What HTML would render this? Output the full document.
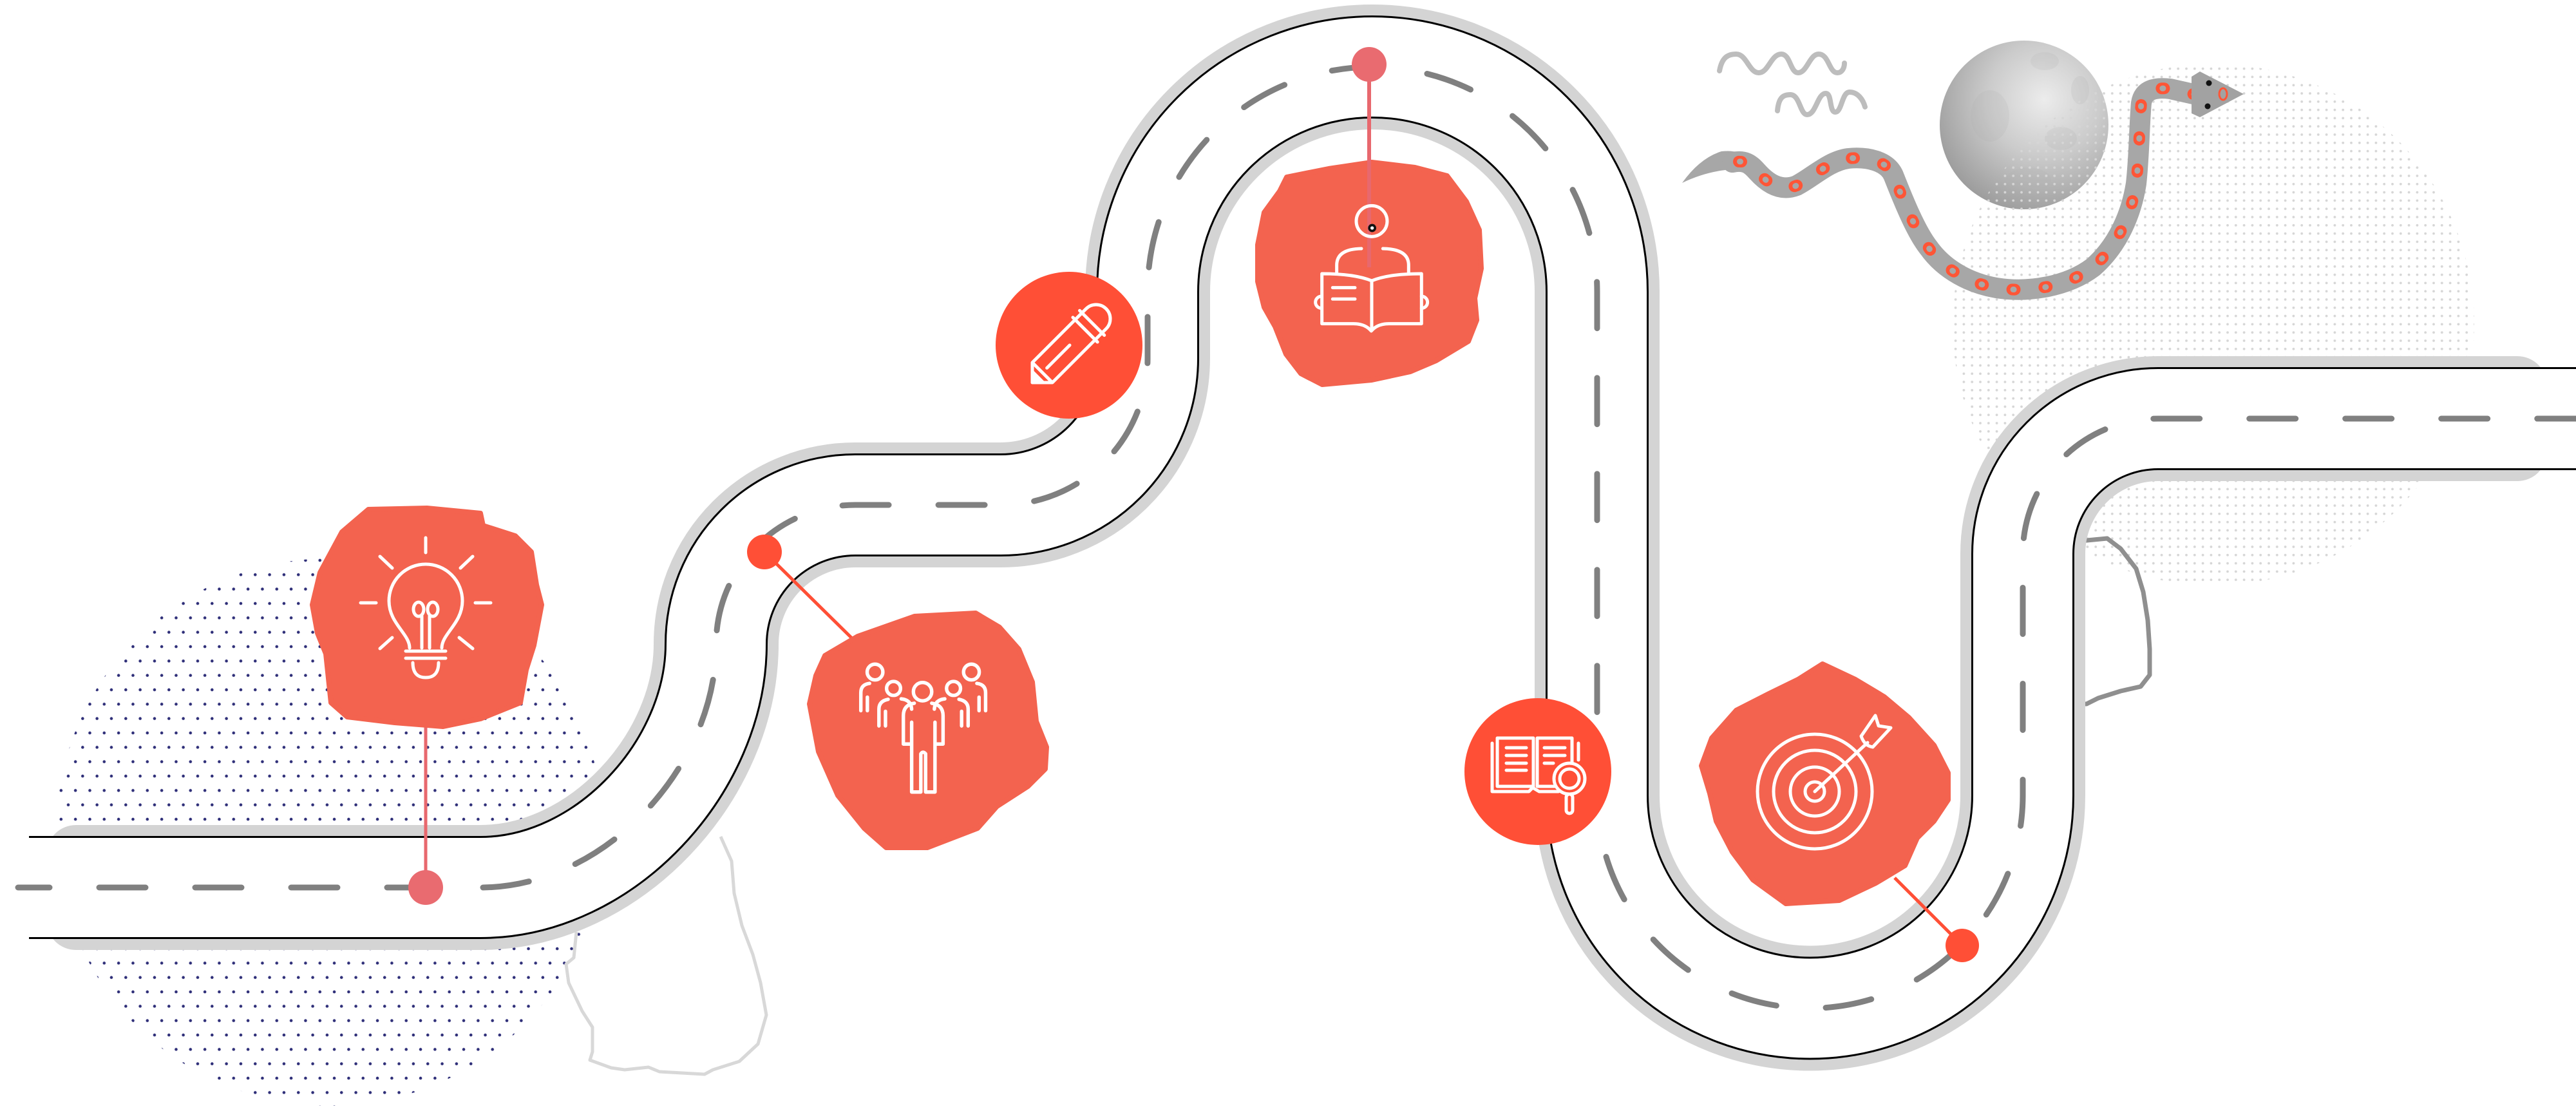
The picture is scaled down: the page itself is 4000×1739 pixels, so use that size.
<!DOCTYPE html>
<html>
<head>
<meta charset="utf-8">
<style>
html,body{margin:0;padding:0;background:#fff;}
svg{display:block;}
</style>
</head>
<body>
<svg width="4000" height="1739" viewBox="0 0 4000 1739" xmlns="http://www.w3.org/2000/svg">
<defs>
  <pattern id="pd1" patternUnits="userSpaceOnUse" x="0" y="1261" width="22.33" height="44.67">
    <circle cx="5.5" cy="11" r="2.3" fill="#2E2E78"/>
    <circle cx="16.67" cy="33.33" r="2.3" fill="#2E2E78"/>
  </pattern>
  <pattern id="pd2" patternUnits="userSpaceOnUse" x="0" y="0" width="12.8" height="12.8">
    <circle cx="3" cy="4.2" r="1.9" fill="#D6D6D6"/>
  </pattern>
  <radialGradient id="moon" cx="62%" cy="35%" r="75%">
    <stop offset="0" stop-color="#ECECEC"/>
    <stop offset="0.45" stop-color="#CBCBCB"/>
    <stop offset="1" stop-color="#959595"/>
  </radialGradient>
</defs>

<rect width="4000" height="1739" fill="#fff"/>

<!-- dotted circles -->
<circle cx="512" cy="1292" r="425" fill="url(#pd1)"/>

<!-- moon -->
<circle cx="3143" cy="194" r="131" fill="url(#moon)"/>
<g fill="#AFAFAF" opacity="0.18">
  <ellipse cx="3175" cy="95" rx="22" ry="14"/>
  <ellipse cx="3090" cy="180" rx="30" ry="40"/>
  <ellipse cx="3200" cy="215" rx="25" ry="18"/>
  <ellipse cx="3150" cy="280" rx="35" ry="20"/>
  <ellipse cx="3230" cy="140" rx="14" ry="22"/>
</g>

<circle cx="3437" cy="504" r="405" fill="url(#pd2)"/>

<!-- squiggles -->
<g fill="none" stroke="#BDBDBD" stroke-width="8" stroke-linecap="round">
  <path d="M 2670 110 C 2674 88 2684 84 2696 84 C 2712 84 2716 113 2731 113 C 2746 113 2750 84 2766 84 C 2780 84 2780 113 2792 113 C 2806 113 2810 84 2824 84 C 2840 84 2840 113 2853 113 C 2860 113 2864 106 2864 98"/>
  <path d="M 2760 172 C 2762 150 2770 147 2780 147 C 2795 147 2795 178 2806 178 C 2820 178 2822 145 2835 145 C 2845 145 2840 174 2850 174 C 2860 174 2860 143 2872 143 C 2885 143 2893 155 2896 166"/>
</g>

<!-- snake -->
<g>
  <path d="M 2612 284 Q 2640 245 2673 235 Q 2700 232 2718 246 L 2726 274 Q 2700 264 2679 264 Q 2645 268 2612 284 Z" fill="#A7A7A7"/>
  <path d="M 2690 252 C 2710 248 2718 255 2728 266 C 2745 285 2765 298 2790 288 C 2815 275 2840 250 2870 246 C 2900 243 2930 250 2940 272 C 2955 310 2975 360 2995 385 C 3020 420 3060 440 3100 447 C 3150 455 3210 445 3250 415 C 3290 380 3310 330 3317 285 C 3322 240 3322 190 3325 160 C 3328 140 3345 135 3370 138 L 3410 147" fill="none" stroke="#A7A7A7" stroke-width="32" stroke-linecap="round" stroke-linejoin="round"/>
  <path d="M 2690 252 C 2710 248 2718 255 2728 266 C 2745 285 2765 298 2790 288 C 2815 275 2840 250 2870 246 C 2900 243 2930 250 2940 272 C 2955 310 2975 360 2995 385 C 3020 420 3060 440 3100 447 C 3150 455 3210 445 3250 415 C 3290 380 3310 330 3317 285 C 3322 240 3322 190 3325 160 C 3328 140 3345 135 3370 138 L 3410 147" fill="none" stroke="#FF5536" stroke-width="18" stroke-linecap="round" stroke-dasharray="4 46" stroke-dashoffset="-10"/>
  <path d="M 2690 252 C 2710 248 2718 255 2728 266 C 2745 285 2765 298 2790 288 C 2815 275 2840 250 2870 246 C 2900 243 2930 250 2940 272 C 2955 310 2975 360 2995 385 C 3020 420 3060 440 3100 447 C 3150 455 3210 445 3250 415 C 3290 380 3310 330 3317 285 C 3322 240 3322 190 3325 160 C 3328 140 3345 135 3370 138 L 3410 147" fill="none" stroke="#A7A7A7" stroke-width="9" stroke-linecap="round" stroke-dasharray="1 49" stroke-dashoffset="-11.5"/>
  <path d="M 3403 119 L 3416 111 L 3484 146 L 3416 182 L 3403 176 Z" fill="#A2A2A2"/>
  <circle cx="3430" cy="129" r="4.5" fill="#111"/>
  <circle cx="3428" cy="165" r="4.5" fill="#111"/>
  <ellipse cx="3452" cy="146" rx="6" ry="9" fill="none" stroke="#FF5536" stroke-width="3"/>
</g>

<!-- grey hand drawn outlines -->
<path d="M 895 1447 L 891 1487 L 879 1497 L 883 1526 L 904 1570 L 920 1595 L 920 1633 L 916 1646 L 949 1658 L 970 1661 L 1007 1657 L 1024 1664 L 1094 1668 L 1107 1661 L 1148 1648 L 1177 1621 L 1190 1576 L 1181 1526 L 1169 1482 L 1152 1437 L 1140 1387 L 1136 1337 L 1119 1299" fill="none" stroke="#D8D8D8" stroke-width="5" stroke-linejoin="round"/>
<path d="M 3230 840 L 3272 836 L 3293 852 L 3317 883 L 3328 919 L 3335 963 L 3338 1008 L 3338 1048 L 3324 1066 L 3293 1073 L 3258 1084 L 3240 1093 L 3228 1093" fill="none" stroke="#8F8F8F" stroke-width="7" stroke-linejoin="round"/>

<!-- road -->
<rect x="72" y="1281" width="120" height="194" rx="46" fill="#D4D4D4"/>
<rect x="3840" y="553" width="115" height="194" rx="46" fill="#D4D4D4"/>
<path d="M 120 1378 H 746 C 940 1378 1112 1190 1112 1000 A 216 216 0 0 1 1328 784 H 1554 A 228 228 0 0 0 1782 556 V 453 A 349 349 0 0 1 2131 104 A 349 349 0 0 1 2480 453 V 1235 A 330.5 330.5 0 0 0 2810.5 1565.5 A 330.5 330.5 0 0 0 3141 1235 V 860 A 210 210 0 0 1 3351 650 H 3900" fill="none" stroke="#D4D4D4" stroke-width="194"/>
<path d="M 45 1378 H 746 C 940 1378 1112 1190 1112 1000 A 216 216 0 0 1 1328 784 H 1554 A 228 228 0 0 0 1782 556 V 453 A 349 349 0 0 1 2131 104 A 349 349 0 0 1 2480 453 V 1235 A 330.5 330.5 0 0 0 2810.5 1565.5 A 330.5 330.5 0 0 0 3141 1235 V 860 A 210 210 0 0 1 3351 650 H 4000" fill="none" stroke="#000" stroke-width="160"/>
<path d="M 0 1378 H 746 C 940 1378 1112 1190 1112 1000 A 216 216 0 0 1 1328 784 H 1554 A 228 228 0 0 0 1782 556 V 453 A 349 349 0 0 1 2131 104 A 349 349 0 0 1 2480 453 V 1235 A 330.5 330.5 0 0 0 2810.5 1565.5 A 330.5 330.5 0 0 0 3141 1235 V 860 A 210 210 0 0 1 3351 650 H 4000" fill="none" stroke="#fff" stroke-width="154"/>
<path d="M 28 1378 H 746 C 940 1378 1112 1190 1112 1000 A 216 216 0 0 1 1328 784 H 1554 A 228 228 0 0 0 1782 556 V 453 A 349 349 0 0 1 2131 104 A 349 349 0 0 1 2480 453 V 1235 A 330.5 330.5 0 0 0 2810.5 1565.5 A 330.5 330.5 0 0 0 3141 1235 V 860 A 210 210 0 0 1 3351 650 H 4000" fill="none" stroke="#808080" stroke-width="9" stroke-linecap="round" stroke-dasharray="72 77" stroke-dashoffset="23"/>

<!-- pin lines -->
<line x1="661" y1="1110" x2="661" y2="1378" stroke="#E8686E" stroke-width="5"/>
<line x1="1187" y1="857" x2="1330" y2="998" stroke="#FF4F36" stroke-width="5"/>
<line x1="2942" y1="1363" x2="3047" y2="1468" stroke="#FF4F36" stroke-width="5"/>

<!-- blobs -->
<g fill="#F3634F" stroke="#F3634F" stroke-width="8" stroke-linejoin="round">
  <polygon points="572,791 663,789 746,797 750,816 800,832 825,857 833,908 841,939 829,1002 817,1040 808,1091 746,1116 688,1128 613,1122 539,1113 514,1091 506,1015 493,983 485,939 497,889 531,826"/>
  <polygon points="1281,1018 1332,988 1420,957 1515,952 1552,974 1582,1008 1603,1059 1609,1120 1625,1160 1623,1194 1596,1221 1548,1252 1518,1286 1440,1316 1376,1316 1342,1286 1301,1235 1271,1167 1257,1093 1267,1049"/>
  <polygon points="1998,275 2063,262 2130,252 2197,260 2247,273 2277,313 2297,357 2300,417 2290,463 2293,497 2280,530 2230,560 2190,577 2130,590 2053,597 2020,580 1997,550 1980,507 1963,477 1953,437 1953,380 1963,330 1987,297"/>
  <polygon points="2830,1031 2881,1055 2926,1082 2964,1114 3003,1157 3025,1200 3025,1242 3003,1275 2977,1301 2958,1344 2913,1371 2856,1398 2773,1403 2722,1366 2690,1323 2665,1275 2655,1232 2642,1189 2658,1146 2696,1103 2747,1077 2792,1055"/>
</g>

<!-- pin dots -->
<circle cx="661" cy="1378" r="27" fill="#E96B70"/>
<circle cx="1187" cy="857" r="27" fill="#FF4F36"/>
<circle cx="3047" cy="1468" r="26" fill="#FF4F36"/>
<line x1="2126" y1="100" x2="2126" y2="415" stroke="#E8686E" stroke-width="6"/>
<circle cx="2126" cy="100" r="27" fill="#E96B70"/>

<!-- solid circles -->
<circle cx="1660" cy="536" r="114" fill="#FF4F36"/>
<circle cx="2388" cy="1198" r="114" fill="#FF4F36"/>

<!-- lightbulb icon -->
<g fill="none" stroke="#fff" stroke-width="5" stroke-linecap="round">
  <path d="M 636 1006 C 636 984 604 968 604 933 A 57 57 0 1 1 718 933 C 718 968 686 984 686 1006"/>
  <path d="M 630 1011 H 692 M 630 1022 H 692 M 641 1029 Q 641 1052 661 1052 Q 681 1052 681 1029"/>
  <path d="M 655 1006 V 957 M 667 1006 V 957"/>
  <ellipse cx="650" cy="946" rx="8" ry="11"/>
  <ellipse cx="672" cy="946" rx="8" ry="11"/>
  <path d="M 661 835 V 858 M 560 936 H 584 M 738 936 H 762 M 590 864 L 609 882 M 734 864 L 715 882 M 590 1007 L 609 990 M 734 1007 L 713 990"/>
</g>

<!-- team icon -->
<g transform="translate(1230,930) scale(0.3387)" fill="none" stroke="#fff" stroke-width="16" stroke-linecap="round" stroke-linejoin="round">
  <circle cx="598" cy="425" r="42"/>
  <path d="M 560 478 Q 510 485 510 535 V 665 H 548 V 565 M 548 565 V 885 H 590 V 710 Q 600 695 612 710 V 885 H 655 V 565 M 655 565 V 665 H 692 V 535 Q 692 485 640 478"/>
  <circle cx="380" cy="335" r="36"/>
  <path d="M 355 387 Q 315 392 315 430 V 512 M 345 450 V 512"/>
  <circle cx="465" cy="410" r="32"/>
  <path d="M 440 460 Q 398 468 398 505 V 582 M 428 515 V 582 M 500 458 Q 545 462 548 505"/>
  <circle cx="822" cy="335" r="36"/>
  <path d="M 847 387 Q 887 392 887 430 V 512 M 857 450 V 512"/>
  <circle cx="740" cy="410" r="32"/>
  <path d="M 765 460 Q 807 468 807 505 V 582 M 777 515 V 582 M 700 458 Q 655 462 652 505"/>
</g>

<!-- pencil icon -->
<g transform="translate(1661,536) rotate(-45)" fill="none" stroke="#fff" stroke-width="5" stroke-linejoin="round" stroke-linecap="round">
  <path d="M -82 0 L -60 -22 L 34 -22 M -82 0 L -60 22 L 34 22 M -60 -22 L -60 22"/>
  <path d="M -82 0 L -70 -12 L -70 12 Z" fill="#fff"/>
  <path d="M -50 0 L 0 0"/>
  <path d="M 34 -27 V 27 M 49 -27 V 27"/>
  <path d="M 34 -22 H 49 M 34 22 H 49"/>
  <path d="M 49 -22 H 58 A 22 22 0 0 1 58 22 H 49"/>
</g>

<!-- reader icon -->
<g transform="translate(1930,230) scale(0.3333)" fill="none" stroke="#fff" stroke-width="15" stroke-linecap="round" stroke-linejoin="round">
  <circle cx="600" cy="340" r="72"/>
  <path d="M 437 578 V 545 Q 437 470 552 468 M 652 468 Q 772 470 772 545 V 578"/>
  <path d="M 600 618 Q 520 585 368 585 V 818 H 515 Q 570 818 598 852 Q 626 818 681 818 H 832 V 585 Q 680 585 600 618 Z"/>
  <path d="M 600 618 V 840"/>
  <path d="M 366 690 A 28 28 0 0 0 366 746 M 832 690 A 28 28 0 0 1 832 746"/>
  <path d="M 418 650 H 522 M 418 703 H 522"/>
  <circle cx="602" cy="372" r="19" fill="#111" stroke="none"/>
  <circle cx="602" cy="372" r="8" fill="#fff" stroke="none"/>
</g>

<!-- book search icon -->
<g fill="none" stroke="#fff" stroke-width="5" stroke-linecap="round" stroke-linejoin="round">
  <path d="M 2317 1154 V 1229 H 2374 L 2380 1223 L 2390 1229 H 2420"/>
  <path d="M 2451 1154 V 1180"/>
  <rect x="2325" y="1146" width="56" height="75"/>
  <rect x="2387" y="1146" width="54" height="75"/>
  <path d="M 2339 1161 H 2370 M 2339 1173 H 2370 M 2339 1185 H 2370 M 2339 1196 H 2370"/>
  <path d="M 2398 1161 H 2430 M 2398 1173 H 2430 M 2398 1185 H 2412"/>
  <circle cx="2437" cy="1209" r="24" fill="#FF4F36"/>
  <circle cx="2437" cy="1209" r="15"/>
  <rect x="2432" y="1233" width="10" height="30" rx="5" fill="#FF4F36"/>
</g>

<!-- target icon -->
<g fill="none" stroke="#fff" stroke-width="5" stroke-linecap="round" stroke-linejoin="round">
  <circle cx="2818" cy="1229" r="89"/>
  <circle cx="2818" cy="1229" r="64"/>
  <circle cx="2818" cy="1229" r="38"/>
  <circle cx="2818" cy="1229" r="15"/>
  <path d="M 2818 1229 L 2900 1153"/>
  <path d="M 2890 1143 L 2912 1111 L 2917 1127 L 2936 1130 L 2908 1160 Q 2895 1158 2890 1143 Z"/>
</g>

</svg>
</body>
</html>
